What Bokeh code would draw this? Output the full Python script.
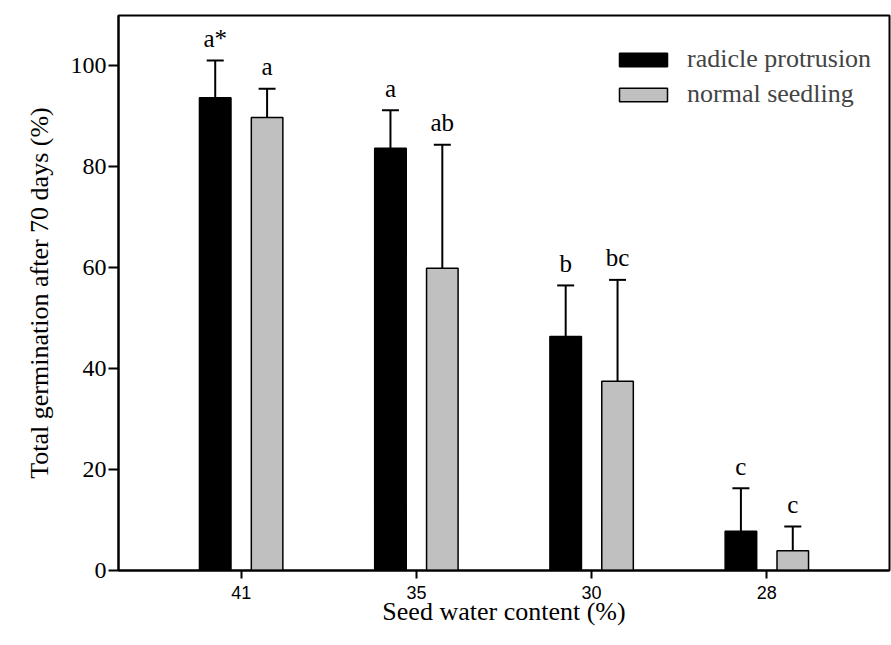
from bokeh.plotting import figure
from bokeh.models import (ColumnDataSource, FactorRange, Range1d, FixedTicker,
                          Legend, LegendItem)
from bokeh.transform import dodge
from bokeh.core.properties import value
from bokeh.embed import file_html
from bokeh.resources import INLINE

# ---- data ----
categories = ["41", "35", "30", "28"]
radicle = [93.7, 83.7, 46.4, 7.8]
radicle_err = [7.4, 7.5, 10.1, 8.5]
seedling = [89.8, 59.9, 37.5, 3.9]
seedling_err = [5.7, 24.5, 20.1, 4.8]
radicle_letters = ["a*", "a", "b", "c"]
seedling_letters = ["a", "ab", "bc", "c"]
y_ticks = [0, 20, 40, 60, 80, 100]

FONT = "Liberation Serif"
SANS = "Liberation Sans"

src = ColumnDataSource(dict(
    cat=categories,
    r=radicle,
    r_up=[m + e for m, e in zip(radicle, radicle_err)],
    r_lab=radicle_letters,
    s=seedling,
    s_up=[m + e for m, e in zip(seedling, seedling_err)],
    s_lab=seedling_letters,
))

p = figure(width=891, height=645, output_backend="svg", toolbar_location=None,
           x_range=FactorRange(factors=categories, range_padding=0.2,
                               range_padding_units="absolute"),
           y_range=Range1d(0, 110),
           min_border_left=118, min_border_right=2, min_border_top=15,
           min_border_bottom=75)

OFF = 0.148
W = 0.18

rb = p.vbar(x=dodge("cat", -OFF, range=p.x_range), top="r", width=W, source=src,
            fill_color="black", line_color="black", line_width=1.5)
gb = p.vbar(x=dodge("cat", OFF, range=p.x_range), top="s", width=W, source=src,
            fill_color="#c0c0c0", line_color="black", line_width=1.5)

for off, lo, up, lab in [(-OFF, "r", "r_up", "r_lab"), (OFF, "s", "s_up", "s_lab")]:
    xd = dodge("cat", off, range=p.x_range)
    p.segment(x0=xd, y0=lo, x1=xd, y1=up, source=src, line_color="black", line_width=2)
    p.scatter(x=xd, y=up, marker="dash", size=17, source=src, line_color="black",
              line_width=2)
    p.text(x=xd, y=up, text=lab, source=src, text_font=value(FONT),
           text_font_size="25px", text_align="center", text_baseline="alphabetic",
           y_offset=-22, text_color="black")

legend = Legend(items=[LegendItem(label="radicle protrusion", renderers=[rb]),
                       LegendItem(label="normal seedling", renderers=[gb])],
                location=(495, 461), glyph_width=60, glyph_height=17,
                label_height=17, spacing=5, padding=0, margin=0,
                label_standoff=14, label_text_font=FONT,
                label_text_font_size="26px", border_line_color=None,
                background_fill_alpha=0)
p.add_layout(legend)

p.xgrid.visible = False
p.ygrid.visible = False
p.outline_line_color = "black"
p.outline_line_width = 2

p.yaxis.ticker = FixedTicker(ticks=y_ticks)
p.yaxis.minor_tick_line_color = None
p.yaxis.major_tick_in = 0
p.yaxis.major_tick_out = 10
p.yaxis.major_label_standoff = 2
p.yaxis.axis_label = "Total germination after 70 days (%)"
p.yaxis.axis_label_standoff = 14

p.xaxis.major_tick_in = 0
p.xaxis.major_tick_out = 8
p.xaxis.major_label_standoff = 7
p.xaxis.axis_label = "Seed water content (%)"
p.xaxis.axis_label_standoff = -5

for ax in (p.xaxis[0], p.yaxis[0]):
    ax.axis_line_width = 2
    ax.axis_line_color = "black"
    ax.major_tick_line_width = 2
    ax.major_tick_line_color = "black"
    ax.major_label_text_font = FONT
    ax.major_label_text_font_size = "24px"
    ax.major_label_text_color = "black"
    ax.axis_label_text_font = FONT
    ax.axis_label_text_font_size = "26px"
    ax.axis_label_text_font_style = "normal"
    ax.axis_label_text_color = "black"

p.xaxis.major_label_text_font = SANS
p.xaxis.major_label_text_font_size = "18px"

open("out.html", "w").write(file_html(p, INLINE))
